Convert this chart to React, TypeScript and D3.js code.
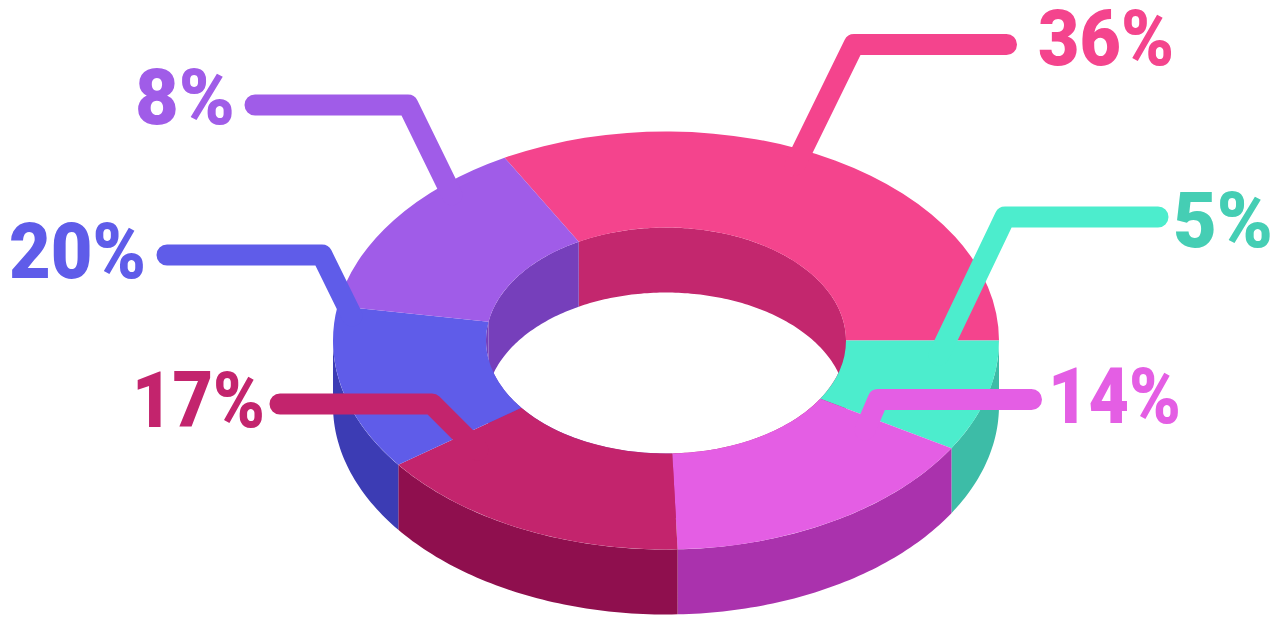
import React from "react";
import * as d3 from "d3";

// slices, clockwise from the pink one
const labels = ["36%", "5%", "14%", "17%", "20%", "8%"];
// swept angle of each slice as drawn (degrees) - the picture does not follow its own labels
const sweeps = [119, 31, 57, 55.5, 46, 51.5];
const topColors = ["#f4448d", "#4cedcd", "#e45ee4", "#c3246d", "#5f5ce9", "#a05ce8"];
const sideColors = ["#c3276e", "#3dbca7", "#aa32ad", "#8f0f4e", "#3c3cb4", "#763fbb"];
const holeColors = ["#c3276e", "#c3276e", "#c3276e", "#763fbb", "#763fbb", "#763fbb"];
const textColors = ["#f4448d", "#45ceb4", "#e45ee4", "#c3246d", "#5f5ce9", "#a05ce8"];

const startDeg = -29;
const cx = 666;
const cy = 340.5;
const outerR = 333;
const innerR = 180;
const squash = 209 / 333;
const depth = 65;

// leader lines and label anchors
const leaders: [number, number][][] = [
  [[795, 165], [854, 44.5], [1006.5, 44.5]],
  [[939, 355], [1005, 217], [1158, 217]],
  [[865, 430], [878, 399.5], [1031.5, 399.5]],
  [[478, 450], [432, 404], [280, 404]],
  [[352, 316], [322, 255], [167, 255]],
  [[452, 195], [408, 105], [255, 105]],
];
const labelBoxes = [
  { x: 1038, y: 65, w: 136 },
  { x: 1173, y: 247, w: 100 },
  { x: 1048, y: 423, w: 133 },
  { x: 132, y: 427, w: 133 },
  { x: 9, y: 278, w: 137 },
  { x: 135, y: 124, w: 100 },
];

const rad = (d: number) => (d * Math.PI) / 180;

const pie = d3
  .pie<number>()
  .sort(null)
  .value((d) => d)
  .startAngle(rad(startDeg))
  .endAngle(rad(startDeg + 360));

const arcs = pie(sweeps);

const topArc = d3
  .arc<d3.PieArcDatum<number>>()
  .innerRadius(innerR)
  .outerRadius(outerR);

// the extruded band of an ellipse between two angles
const wallPath = (a0: number, a1: number, r: number) => {
  const n = Math.max(2, Math.ceil(((a1 - a0) * 180) / Math.PI));
  const angles = d3.range(n + 1).map((i) => a0 + ((a1 - a0) * i) / n);
  const line = d3
    .line<[number, number]>()
    .x((d) => cx + r * Math.sin(d[0]))
    .y((d) => cy - r * squash * Math.cos(d[0]) + d[1]);
  const upper = angles.map((a) => [a, 0] as [number, number]);
  const lower = angles
    .slice()
    .reverse()
    .map((a) => [a, depth] as [number, number]);
  return line(upper.concat(lower)) + "Z";
};

const leaderLine = d3.line();

export default function App() {
  return (
    <svg
      width={1287}
      height={617}
      viewBox="0 0 1287 617"
      style={{ position: "fixed", left: 0, top: 0, background: "#fff" }}
    >
      {/* back of the hole */}
      {arcs.map((d, i) => (
        <path
          key={"hole" + i}
          d={wallPath(d.startAngle, d.endAngle, innerR)}
          fill={holeColors[i]}
        />
      ))}
      {/* outside wall, front half only */}
      {arcs.map((d, i) => {
        const a0 = Math.max(d.startAngle, rad(90));
        const a1 = Math.min(d.endAngle, rad(270));
        if (a1 <= a0) return null;
        return <path key={"side" + i} d={wallPath(a0, a1, outerR)} fill={sideColors[i]} />;
      })}
      {/* top face */}
      <g transform={`translate(${cx},${cy}) scale(1,${squash})`}>
        {arcs.map((d, i) => (
          <path key={"top" + i} d={topArc(d) || ""} fill={topColors[i]} />
        ))}
      </g>
      {leaders.map((pts, i) => (
        <path
          key={"leader" + i}
          d={leaderLine(pts) || ""}
          fill="none"
          stroke={topColors[i]}
          strokeWidth={21}
          strokeLinecap="round"
          strokeLinejoin="round"
        />
      ))}
      {labels.map((t, i) => (
        <text
          key={t}
          x={labelBoxes[i].x}
          y={labelBoxes[i].y}
          textLength={labelBoxes[i].w}
          lengthAdjust="spacingAndGlyphs"
          fill={textColors[i]}
          style={{ fontFamily: "Roboto", fontWeight: 900, fontSize: 78 }}
        >
          {t}
        </text>
      ))}
    </svg>
  );
}
